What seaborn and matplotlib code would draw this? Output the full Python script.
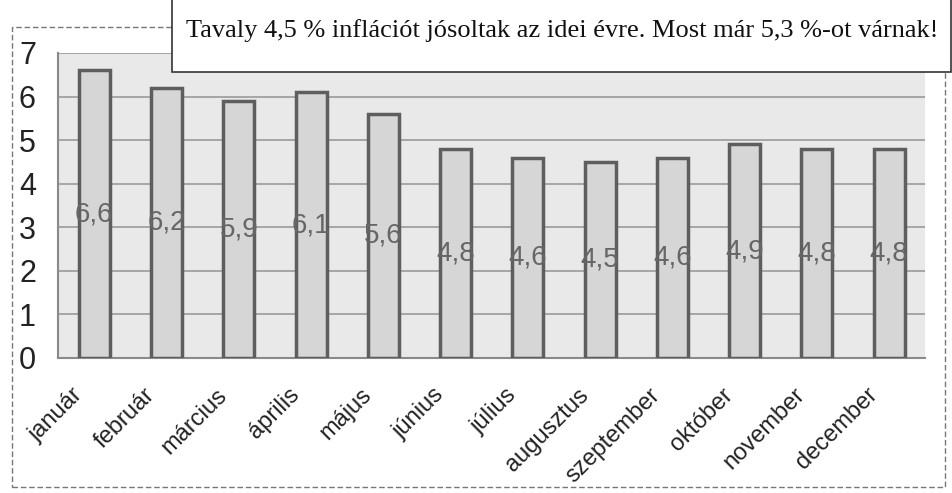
import matplotlib.pyplot as plt
import matplotlib.patches as patches
import matplotlib.transforms as mtransforms
import pandas as pd
import seaborn as sns

# monthly inflation forecast values (%)
months = ["január", "február", "március", "április", "május", "június",
          "július", "augusztus", "szeptember", "október", "november", "december"]
values = [6.6, 6.2, 5.9, 6.1, 5.6, 4.8, 4.6, 4.5, 4.6, 4.9, 4.8, 4.8]
labels = ["6,6", "6,2", "5,9", "6,1", "5,6", "4,8", "4,6", "4,5", "4,6", "4,9", "4,8", "4,8"]
title = "Tavaly 4,5 % inflációt jósoltak az idei évre. Most már 5,3 %-ot várnak!"

df = pd.DataFrame({"month": months, "value": values})

sns.set_style("white")
plt.rcParams["font.family"] = ["Liberation Sans", "DejaVu Sans"]

fig = plt.figure(figsize=(9.53, 4.93), dpi=100)
ax = fig.add_axes([0.061, 0.274, 0.91, 0.6185])
ax.set_facecolor("#e9e9e9")

sns.barplot(data=df, x="month", y="value", ax=ax, color="#d6d6d6",
            edgecolor="#5e5e5e", linewidth=2.5, width=0.43, saturation=1,
            errorbar=None, zorder=3)

# value labels in the middle of each bar
for i, (v, lab) in enumerate(zip(values, labels)):
    ax.text(i, v / 2, lab, ha="center", va="center", fontsize=20,
            color="#666666", zorder=4)

ax.set_ylim(0, 7)
ax.set_xlim(-0.5, len(months) - 0.5)
ax.set_yticks(range(0, 8))
ax.yaxis.grid(True, color="#9a9a9a", linewidth=1.2, zorder=0)
ax.tick_params(axis="y", labelsize=22, length=0, pad=16, labelcolor="#222222")
ax.tick_params(axis="x", labelsize=17, length=0, pad=8, labelcolor="#222222")
# rotated month labels sit a bit left of and below the bars
shift = mtransforms.ScaledTranslation(-0.23, -0.15, fig.dpi_scale_trans)
for lbl in ax.get_xticklabels():
    lbl.set_rotation(45)
    lbl.set_ha("right")
    lbl.set_rotation_mode("anchor")
    lbl.set_transform(lbl.get_transform() + shift)
ax.set_xlabel("")
ax.set_ylabel("")
for side in ["top", "right"]:
    ax.spines[side].set_visible(False)
ax.spines["left"].set_color("#8a8a8a")
ax.spines["bottom"].set_color("#8a8a8a")
ax.spines["left"].set_linewidth(1.5)
ax.spines["bottom"].set_linewidth(1.5)

# dashed chart border
fig.patches.append(patches.Rectangle((0.013, 0.012), 0.979, 0.933,
                                     transform=fig.transFigure, fill=False,
                                     edgecolor="#777777", linewidth=1,
                                     linestyle=(0, (4, 2)), zorder=0))
# title box
fig.patches.append(patches.Rectangle((0.181, 0.854), 0.817, 0.2,
                                     transform=fig.transFigure, facecolor="white",
                                     edgecolor="#333333", linewidth=1.2, zorder=5))
fig.text(0.59, 0.938, title, ha="center", va="center", fontsize=19,
         family=["Liberation Serif", "DejaVu Serif"], color="#111111", zorder=6)

fig.savefig("out.png", dpi=100)
